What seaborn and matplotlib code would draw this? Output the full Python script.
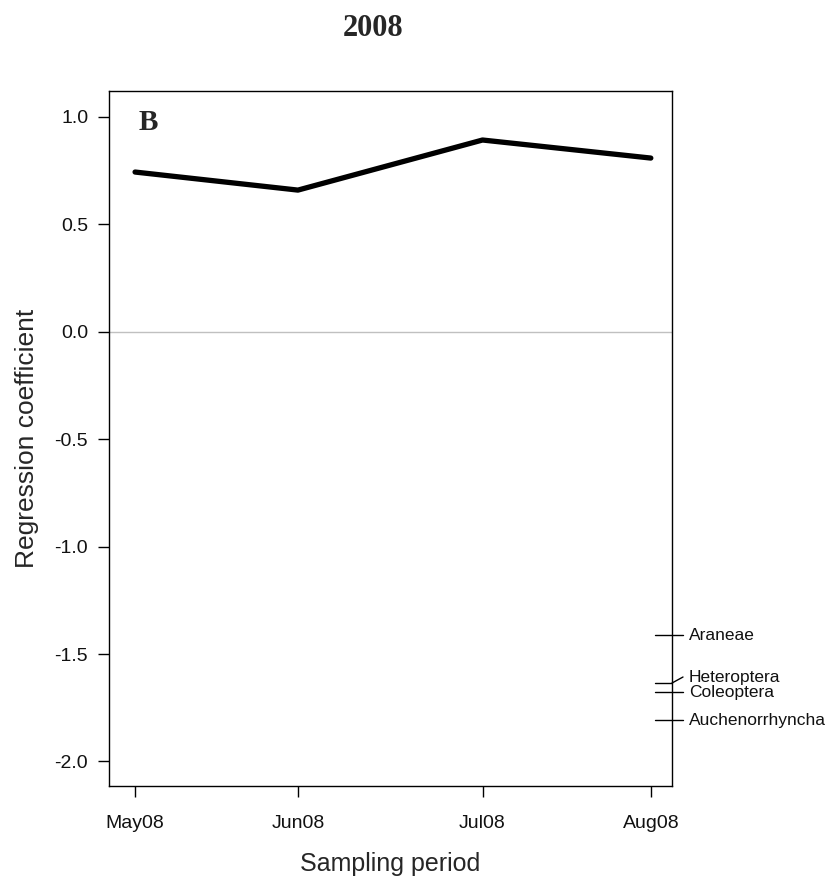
import matplotlib
matplotlib.use("Agg")
import matplotlib.pyplot as plt
import seaborn as sns
import pandas as pd
import numpy as np

# ---- data ----
periods = ["May08", "Jun08", "Jul08", "Aug08"]
sample_day = [140, 170, 204, 235]          # day of year of sampling
coef = [0.742, 0.658, 0.891, 0.807]        # regression coefficient (PRC)
species = ["Araneae", "Heteroptera", "Coleoptera", "Auchenorrhyncha"]
species_weight = [-1.412, -1.635, -1.677, -1.807]
yticks = [1.0, 0.5, 0.0, -0.5, -1.0, -1.5, -2.0]

sns.set_style("ticks")
plt.rcParams["font.family"] = ["Liberation Sans", "DejaVu Sans"]

fig = plt.figure(figsize=(8.33, 8.8), dpi=100)
ax = fig.add_axes([109/833, 94/880, 563/833, 695/880])

df = pd.DataFrame({"day": sample_day, "coef": coef, "period": periods})
ax.axhline(0, color="#c0c0c0", lw=1.0, zorder=1)
sns.lineplot(data=df, x="day", y="coef", ax=ax, color="black", lw=3.8,
             solid_capstyle="round", solid_joinstyle="round", zorder=3)

ax.set_xlim(135.2, 238.9)
ax.set_ylim(-2.114, 1.119)
ax.set_xticks(sample_day)
ax.set_xticklabels(periods)
ax.set_yticks(yticks)
ax.set_yticklabels([f"{v:.1f}" for v in yticks])
ax.tick_params(axis="both", length=8, width=1, color="black", labelsize=14,
               labelcolor="#111111")
ax.tick_params(axis="x", pad=13)
ax.tick_params(axis="y", pad=7)
for s in ax.spines.values():
    s.set_visible(True)
    s.set_color("black")
    s.set_linewidth(1.0)

ax.set_xlabel("Sampling period", fontsize=18, labelpad=14)
ax.set_ylabel("Regression coefficient", fontsize=19, labelpad=11)

# panel letter and title
ax.text(0.053, 0.955, "B", transform=ax.transAxes, fontsize=21,
        fontweight="bold", family="Liberation Serif", va="center", ha="left")
fig.text(373/833, 1 - 28/880, "2008", fontsize=22, fontweight="bold",
         family="Liberation Serif", ha="center", va="center")

# species weights on right axis (linestack-like)
gap = 0.07
order = np.argsort(species_weight)  # bottom to top
label_pos = list(species_weight)
prev = None
for i in order:
    if prev is not None and label_pos[i] - label_pos[prev] < gap:
        label_pos[i] = label_pos[prev] + gap
    prev = i

tr = ax.get_yaxis_transform()
x_in, x_ax, x_out, x_txt = 1 - 17/563, 1.0, 1 + 11/563, 1 + 17/563
for name, w, lp in zip(species, species_weight, label_pos):
    ax.plot([x_in, x_ax], [w, w], color="black", lw=1.0, transform=tr,
            clip_on=False)
    ax.plot([x_ax, x_out], [w, lp], color="black", lw=1.0, transform=tr,
            clip_on=False)
    ax.text(x_txt, lp, name, transform=tr, fontsize=12.5, va="center",
            ha="left", color="#111111")

fig.savefig("out.png", dpi=100, facecolor="white")
